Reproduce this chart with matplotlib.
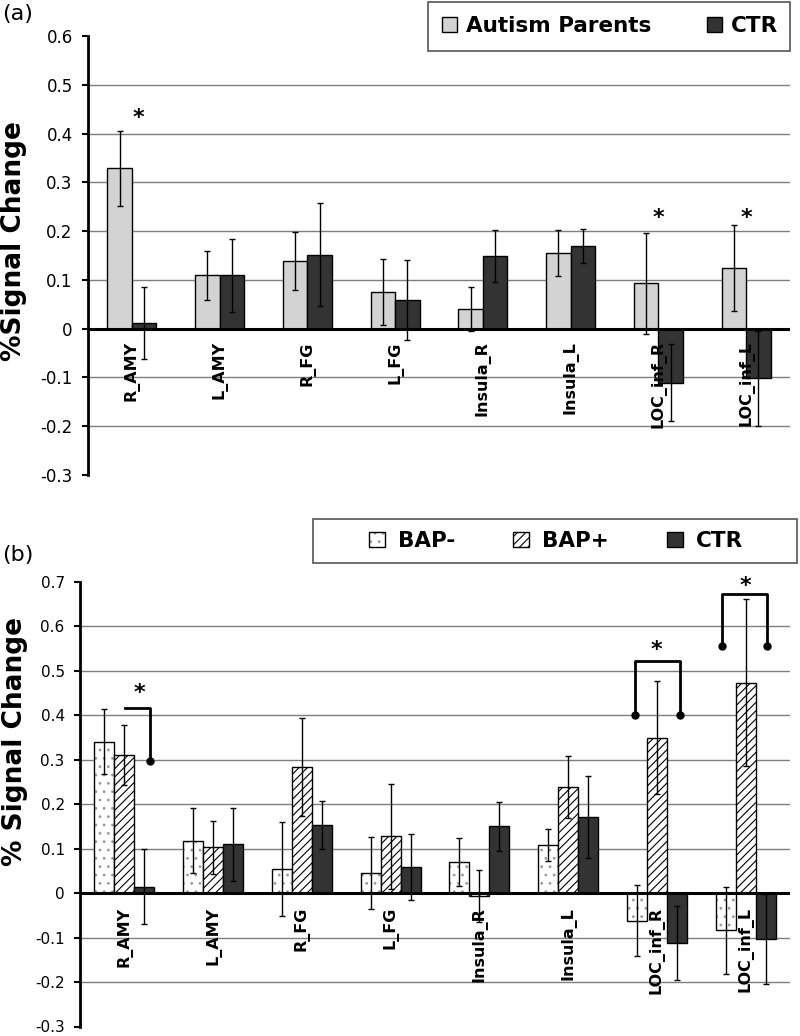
import matplotlib
matplotlib.use("Agg")
import matplotlib.pyplot as plt
from matplotlib.patches import Rectangle
import numpy as np

plt.rcParams['font.family'] = ['DejaVu Sans']
plt.rcParams['hatch.linewidth'] = 0.8

# ---- data ----
regions = ['R_AMY', 'L_AMY', 'R_FG', 'L_FG', 'Insula_R', 'Insula_L', 'LOC_inf_R', 'LOC_inf_L']

# panel (a)
parents = [0.329, 0.109, 0.139, 0.075, 0.041, 0.155, 0.093, 0.125]
parents_err = [0.077, 0.050, 0.059, 0.068, 0.045, 0.048, 0.104, 0.088]
ctr_a = [0.012, 0.109, 0.152, 0.058, 0.149, 0.170, -0.111, -0.102]
ctr_a_err = [0.074, 0.074, 0.105, 0.082, 0.054, 0.035, 0.079, 0.097]
stars_a_x = [0.07, 6.0, 7.0]
stars_a_y = [0.432, 0.227, 0.227]

# panel (b)
bap_minus = [0.340, 0.118, 0.054, 0.045, 0.070, 0.107, -0.062, -0.084]
bap_minus_err = [0.073, 0.074, 0.105, 0.081, 0.054, 0.036, 0.080, 0.098]
bap_plus = [0.310, 0.103, 0.283, 0.128, -0.007, 0.238, 0.349, 0.473]
bap_plus_err = [0.067, 0.060, 0.110, 0.118, 0.059, 0.070, 0.127, 0.188]
ctr_b = [0.014, 0.110, 0.154, 0.059, 0.150, 0.171, -0.112, -0.103]
ctr_b_err = [0.084, 0.082, 0.054, 0.074, 0.055, 0.093, 0.083, 0.101]

# significance brackets in (b): left x, right x, top y, dot y (dot at right end only if half)
br_left = [0.01, 5.755, 6.73]
br_right = [0.29, 6.255, 7.24]
br_top = [0.417, 0.521, 0.673]
br_dot = [0.296, 0.401, 0.556]
br_half = [True, False, False]
stars_b_x = [0.17, 6.0, 7.0]
stars_b_y = [0.45, 0.546, 0.69]

ticks_a = [0.6, 0.5, 0.4, 0.3, 0.2, 0.1, 0.0, -0.1, -0.2, -0.3]
ticks_b = [0.7, 0.6, 0.5, 0.4, 0.3, 0.2, 0.1, 0.0, -0.1, -0.2, -0.3]

light = '#d3d3d3'
dark = '#333333'

W, H = 800, 1036
fig = plt.figure(figsize=(W / 100, H / 100), dpi=100)

ax_a = fig.add_axes([88 / W, 1 - 475 / H, 702 / W, 439 / H])
ax_b = fig.add_axes([80 / W, 1 - 1026.5 / H, 710 / W, 444.8 / H])


def style_axis(ax, ticks, tick_fs):
    ax.set_xlim(-0.5, 7.5)
    ax.set_ylim(ticks[-1], ticks[0])
    for s in ['top', 'right', 'bottom']:
        ax.spines[s].set_visible(False)
    ax.spines['left'].set_linewidth(2)
    ax.set_yticks(ticks)
    ax.set_yticklabels(['0' if t == 0 else f'{t:.1f}' for t in ticks], fontsize=tick_fs)
    ax.tick_params(axis='y', direction='out', length=4, width=1.5, pad=7)
    ax.set_xticks([])
    for t in ticks[1:-1]:
        if t != 0:
            ax.axhline(t, color='#7f7f7f', lw=1, zorder=0)
    ax.axhline(0, color='black', lw=2.2, zorder=3)


def region_labels(ax, offset):
    for i, name in enumerate(regions):
        ax.annotate(name, xy=(i, 0), xytext=(0, -offset), textcoords='offset points',
                    rotation=90, ha='center', va='top', fontsize=11.5,
                    fontweight='bold', zorder=6)


x = np.arange(len(regions))

# ---- panel (a) ----
style_axis(ax_a, ticks_a, 12)
w = 0.28
b1 = ax_a.bar(x - w / 2, parents, w, color=light, edgecolor='black', lw=1, zorder=2)
b2 = ax_a.bar(x + w / 2, ctr_a, w, color=dark, edgecolor='black', lw=1, zorder=2)
ax_a.errorbar(x - w / 2, parents, yerr=parents_err, fmt='none', ecolor='black',
              elinewidth=1, capsize=2.5, capthick=1, zorder=4)
ax_a.errorbar(x + w / 2, ctr_a, yerr=ctr_a_err, fmt='none', ecolor='black',
              elinewidth=1, capsize=2.5, capthick=1, zorder=4)
region_labels(ax_a, 9)
for sx, sy in zip(stars_a_x, stars_a_y):
    ax_a.text(sx, sy, '*', ha='center', va='center', fontsize=16, fontweight='bold')

fig.text(14 / W, 1 - 241 / H, '%Signal Change', rotation=90, ha='center', va='center',
         fontsize=19, fontweight='bold')
fig.text(2 / W, 1 - 14 / H, '(a)', ha='left', va='center', fontsize=16)

fig.patches.append(Rectangle((428 / W, 1 - 51 / H), 362 / W, 49 / H, transform=fig.transFigure,
                             fill=False, edgecolor='#555555', lw=1.2))
fig.legend([b1, b2], ['Autism Parents', 'CTR'], loc='center',
           bbox_to_anchor=(610 / W, 1 - 26 / H), ncol=2, frameon=False,
           prop={'weight': 'bold', 'size': 15.5}, handlelength=0.7, handleheight=0.7,
           handletextpad=0.4, columnspacing=2.6)

# ---- panel (b) ----
style_axis(ax_b, ticks_b, 11)
w = 0.225
hb = ax_b.bar(x - w, bap_minus, w, color='white', edgecolor='#9a9a9a', hatch='..', lw=0, zorder=2)
eb = ax_b.bar(x - w, bap_minus, w, fill=False, edgecolor='black', lw=1, zorder=2)
bp = ax_b.bar(x, bap_plus, w, color='white', edgecolor='black', hatch='////', lw=1, zorder=2)
bc = ax_b.bar(x + w, ctr_b, w, color=dark, edgecolor='black', lw=1, zorder=2)
for off, vals, errs in [(-w, bap_minus, bap_minus_err), (0, bap_plus, bap_plus_err),
                        (w, ctr_b, ctr_b_err)]:
    ax_b.errorbar(x + off, vals, yerr=errs, fmt='none', ecolor='black',
                  elinewidth=1, capsize=2.5, capthick=1, zorder=4)
region_labels(ax_b, 10)

for xl, xr, yt, yd, half in zip(br_left, br_right, br_top, br_dot, br_half):
    if half:
        ax_b.plot([xl, xr, xr], [yt, yt, yd], color='black', lw=2, zorder=5)
        ax_b.plot([xr], [yd], 'o', color='black', ms=5, zorder=5)
    else:
        ax_b.plot([xl, xl, xr, xr], [yd, yt, yt, yd], color='black', lw=2, zorder=5)
        ax_b.plot([xl, xr], [yd, yd], 'o', color='black', ms=5, zorder=5, ls='none')
for sx, sy in zip(stars_b_x, stars_b_y):
    ax_b.text(sx, sy, '*', ha='center', va='center', fontsize=16, fontweight='bold')

fig.text(15 / W, 1 - 742 / H, '% Signal Change', rotation=90, ha='center', va='center',
         fontsize=19, fontweight='bold')
fig.text(2 / W, 1 - 555 / H, '(b)', ha='left', va='center', fontsize=16)

fig.patches.append(Rectangle((313 / W, 1 - 563 / H), 484 / W, 44 / H, transform=fig.transFigure,
                             fill=False, edgecolor='#555555', lw=1.2))
fig.legend([(hb, eb), bp, bc], ['BAP-', 'BAP+', 'CTR'], loc='center',
           bbox_to_anchor=(556 / W, 1 - 541 / H), ncol=3, frameon=False,
           prop={'weight': 'bold', 'size': 15.5}, handlelength=0.75, handleheight=0.75,
           handletextpad=0.6, columnspacing=2.7)

fig.savefig('out.png', dpi=100)
